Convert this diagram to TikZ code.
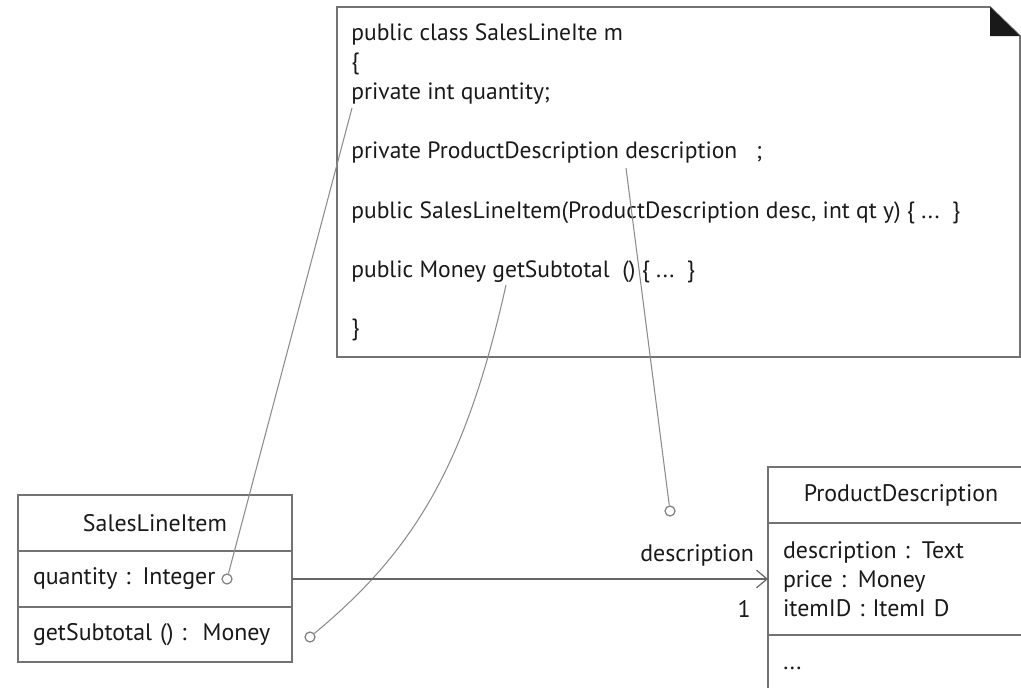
\documentclass[tikz,border=0pt]{standalone}
\usepackage{fontspec}
\setmainfont{PT Sans}
\usetikzlibrary{arrows.meta,positioning}

\begin{document}
\begin{tikzpicture}[x=0.02cm, y=-0.02cm,
	code/.style={anchor=west, inner sep=0pt, font=\fontsize{13.4}{15}\selectfont, text=black!90},
	comp/.style={draw=black!55, line width=1pt, outer sep=0pt, inner sep=0pt,
		font=\fontsize{13.6}{16.5}\selectfont, text=black!90},
	lolly/.style={draw=black!50, circle, minimum size=0.2cm, inner sep=0pt,
		line width=0.7pt, fill=white},
	link/.style={draw=black!45, line width=0.6pt},
	arr/.style={-{Straight Barb[length=6pt,width=10pt]}, draw=black!60, line width=0.7pt}
]
	\useasboundingbox (0,0) rectangle (1021,687);

	% Note with the code
	\draw[draw=black!55, line width=1pt] (337,7) -- (990,7) -- (1020,36) -- (1020,357)
		-- (337,357) -- cycle;
	\fill[black!90] (990,7) -- (990,36) -- (1020,36) -- cycle;

	\node[code] (clsline)    at (351,34)  {public class SalesLineIte m};
	\node[code] (openbrace)  at (351,64)  {\{};
	\node[code] (qtyline)    at (351,94)  {private int quantity;};
	\node[code] (descline)   at (351,153) {private ProductDescription description\ \ \ ;};
	\node[code] (ctorline)   at (351,213) {public SalesLineItem(ProductDescription desc, int qt y) \{ ...\ \ \}};
	\node[code] (subline)    at (351,272) {public Money getSubtotal\ \ () \{\ ...\ \ \}};
	\node[code] (closebrace) at (351,330) {\}};

	\coordinate (qtyend)  at (352,108);
	\coordinate (descend) at (626,168);
	\coordinate (subend)  at (506,285);

	% SalesLineItem class
	\node[comp, minimum width=5.48cm, minimum height=1.12cm] (slihead) at (155,523)
		{SalesLineItem};
	\node[comp, minimum width=5.48cm, minimum height=1.12cm, text width=4.88cm, align=left,
		below=0pt of slihead] (sliattr) {quantity : Integer};
	\node[comp, minimum width=5.48cm, minimum height=1.1cm, text width=4.88cm, align=left,
		below=0pt of sliattr] (sliop) {getSubtotal () :\ \ Money};

	% ProductDescription class
	\node[comp, minimum width=5.32cm, minimum height=1.12cm] (pdhead) at (901,495)
		{ProductDescription};
	\node[comp, minimum width=5.32cm, minimum height=2.24cm, text width=4.72cm, align=left,
		below=0pt of pdhead] (pdattr)
		{description : Text\\ price : Money\\ itemID : ItemI\ D};
	\node[comp, minimum width=5.32cm, minimum height=1.4cm, below=0pt of pdattr] (pdop) {};
	\node[code] (pddots) at (783,668) {...};

	% Lollipops
	\node[lolly] (qc) at (227,579) {};
	\node[lolly] (sc) at (310,637) {};
	\node[lolly] (dc) at (670,511) {};

	\draw[link] (qtyend) -- (qc);
	\draw[link] (descend) -- (dc);
	\draw[link] (subend) .. controls (466,465) and (414,551) .. (sc);

	% Association
	\draw[arr] (sliattr.east) -- (sliattr.east -| pdattr.west)
		node[pos=1, anchor=south east, xshift=-8pt, yshift=7pt, comp, draw=none] (rolelbl) {description}
		node[pos=1, xshift=-13.6pt, yshift=-17pt, comp, draw=none] (multlbl) {1};
\end{tikzpicture}
\end{document}
